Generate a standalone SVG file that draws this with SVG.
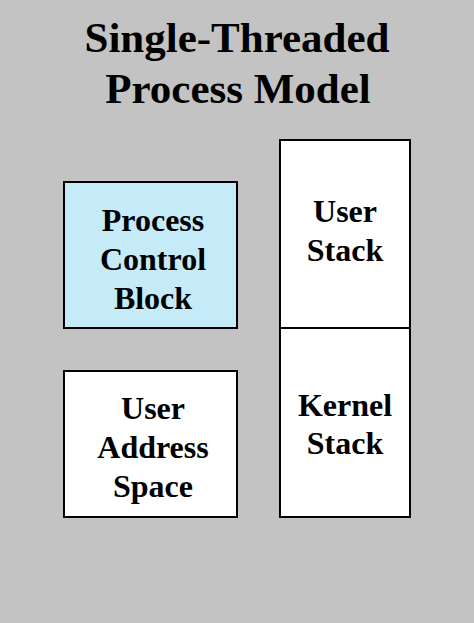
<svg xmlns="http://www.w3.org/2000/svg" width="474" height="623" viewBox="0 0 474 623">
<style>
.box{stroke:#000;stroke-width:2}
.t{font-family:"Liberation Serif","Times New Roman",serif;font-weight:bold;text-anchor:middle;fill:#000}
.lbl{font-size:32px}
.title{font-size:43px}
</style>
<rect width="474" height="623" fill="#c3c3c3"/>
<g id="title">
<text class="t title" x="237" y="52">Single-Threaded</text>
<text class="t title" x="238" y="103">Process Model</text>
</g>
<g id="pcb">
<rect class="box" x="64" y="182" width="173" height="146" fill="#c5eaf8"/>
<text class="t lbl" x="153" y="231">Process</text>
<text class="t lbl" x="153" y="270">Control</text>
<text class="t lbl" x="153" y="309">Block</text>
</g>
<g id="uas">
<rect class="box" x="64" y="371" width="173" height="146" fill="#fff"/>
<text class="t lbl" x="153" y="419">User</text>
<text class="t lbl" x="153" y="458">Address</text>
<text class="t lbl" x="153" y="497">Space</text>
</g>
<g id="ustack">
<rect class="box" x="280" y="140" width="130" height="188" fill="#fff"/>
<text class="t lbl" x="345" y="222">User</text>
<text class="t lbl" x="345" y="261">Stack</text>
</g>
<g id="kstack">
<rect class="box" x="280" y="328" width="130" height="189" fill="#fff"/>
<text class="t lbl" x="345" y="416">Kernel</text>
<text class="t lbl" x="345" y="454">Stack</text>
</g>
<g id="connectors"/>
</svg>
